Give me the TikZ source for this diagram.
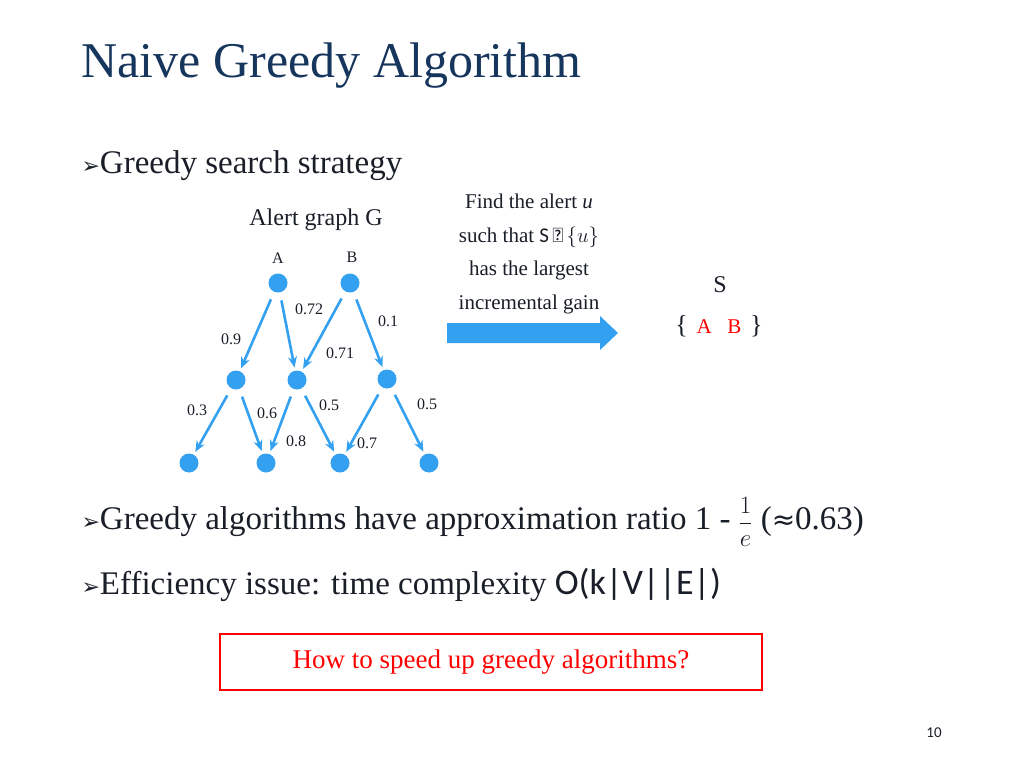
\documentclass[tikz,border=0pt]{standalone}
\usepackage{fontspec}
\usepackage{amsmath,amssymb}
\setmainfont{Liberation Serif}
\newfontfamily\symf{DejaVu Sans}
\usetikzlibrary{arrows.meta}
\definecolor{titleblue}{RGB}{23,54,93}
\definecolor{nodeblue}{RGB}{52,160,240}
\definecolor{txt}{RGB}{25,30,40}
\begin{document}
\begin{tikzpicture}[x=1pt,y=-1pt,
  vtx/.style={circle,fill=nodeblue,inner sep=0pt,minimum size=19pt},
  edge/.style={-{Stealth[length=11pt,width=9pt]},nodeblue,line width=2.6pt,shorten <=8pt,shorten >=3pt},
  lab/.style={font=\fontsize{16}{18}\selectfont,text=txt},
  body/.style={font=\fontsize{33}{36}\selectfont,text=txt,anchor=west},
  small/.style={font=\fontsize{24}{26}\selectfont,text=txt}]
\useasboundingbox (0,0) rectangle (1024,768);
\fill[white] (0,0) rectangle (1024,768);
\node[anchor=west,font=\fontsize{50}{54}\selectfont,text=titleblue] (title) at (78,66) {Naive Greedy Algorithm};
\node[body] (b1) at (78,166) {{\fontsize{22}{24}\selectfont\symf ➢}Greedy search strategy};
\node[small] (gt) at (316,220) {Alert graph G};
% graph
\node[vtx] (A) at (278,283) {};
\node[vtx] (B) at (350,283) {};
\node[lab] (la) at (278,258) {A};
\node[lab] (lb) at (352,257) {B};
\node[vtx] (m1) at (236,380) {};
\node[vtx] (m2) at (297,380) {};
\node[vtx] (m3) at (387,379) {};
\node[vtx] (l1) at (189,463) {};
\node[vtx] (l2) at (266,463) {};
\node[vtx] (l3) at (340,463) {};
\node[vtx] (l4) at (429,463) {};
\draw[edge] (A) -- (m1);
\draw[edge] (A) -- (m2);
\draw[edge] (B) -- (m2);
\draw[edge] (B) -- (m3);
\draw[edge] (m1) -- (l1);
\draw[edge] (m1) -- (l2);
\draw[edge] (m2) -- (l2);
\draw[edge] (m2) -- (l3);
\draw[edge] (m3) -- (l3);
\draw[edge] (m3) -- (l4);
\node[lab] (e1) at (231,339) {0.9};
\node[lab] (e2) at (309,309) {0.72};
\node[lab] (e3) at (388,321) {0.1};
\node[lab] (e4) at (340,353) {0.71};
\node[lab] (e5) at (197,410) {0.3};
\node[lab] (e6) at (267,413) {0.6};
\node[lab] (e7) at (329,405) {0.5};
\node[lab] (e8) at (427,404) {0.5};
\node[lab] (e9) at (296,441) {0.8};
\node[lab] (e10) at (367,443) {0.7};
% text and arrow
\node[small,align=center,font=\fontsize{21}{33.5}\selectfont] (find) at (529,254)
 {Find the alert \textit{u}\\ such that {\fontspec{Carlito}S\,∪\,}$\{u\}$\\ has the largest\\ incremental gain};
\fill[nodeblue] (447,323) -- (600,323) -- (600,316) -- (618,333) -- (600,350) -- (600,343) -- (447,343) -- cycle;
\node[small] (S) at (720,285) {S};
\node[small,font=\fontsize{26}{28}\selectfont] (set) at (719,326) {\{\,\,{\color{red}\fontsize{21}{24}\selectfont A\,\,\, B}\,\,\}};
\node[body] (b2) at (78,522) {{\fontsize{22}{24}\selectfont\symf ➢}Greedy algorithms have approximation ratio 1 - {\fontsize{26}{30}\selectfont$\dfrac{1}{e}$} ({\symf\fontsize{28}{30}\selectfont≈}0.63)};
\node[body] (b3) at (78,585) {{\fontsize{22}{24}\selectfont\symf ➢}Efficiency issue: time complexity {\fontspec{Carlito}\fontsize{36}{38}\selectfont O(k|V||E|)}};
\node[draw=red,line width=2pt,minimum width=542pt,minimum height=56pt,text=red,font=\fontsize{27}{30}\selectfont] (q) at (491,662) {How to speed up greedy algorithms?};
\node[font=\fontspec{Carlito}\fontsize{15}{16}\selectfont,text=txt] (pg) at (934,733) {10};
\end{tikzpicture}
\end{document}
